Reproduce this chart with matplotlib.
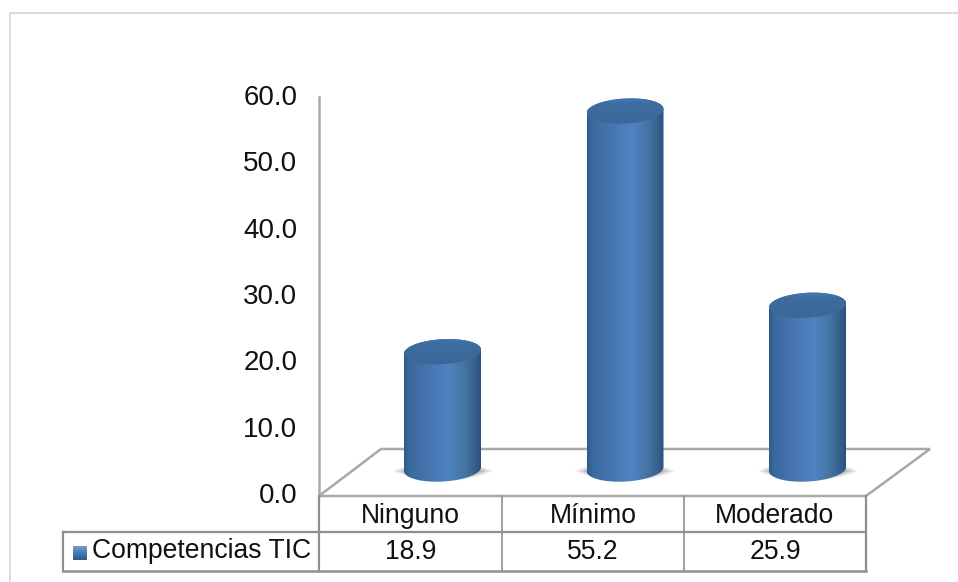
import numpy as np
import matplotlib
matplotlib.use("Agg")
import matplotlib.pyplot as plt
from matplotlib.colors import LinearSegmentedColormap
from matplotlib.patches import Polygon, PathPatch
from matplotlib.path import Path

plt.rcParams["font.family"] = ["Liberation Sans", "DejaVu Sans"]

categories = ["Ninguno", "Mínimo", "Moderado"]
values = [18.9, 55.2, 25.9]
series_name = "Competencias TIC"
y_ticks = [0, 10, 20, 30, 40, 50, 60]

W, H = 958, 582
FS = 19.1
FS_TICK = 20
GRID = "#a8a8a8"
EDGE = "#8f8f8f"

fig = plt.figure(figsize=(W / 100, H / 100), dpi=100, facecolor="white")


def axes_px(x0, y_top, x1, y_bottom, **kw):
    return fig.add_axes([x0 / W, 1 - y_bottom / H, (x1 - x0) / W, (y_bottom - y_top) / H], **kw)


# Layer holding the chart frame, back wall edge, floor and data table, in pixel units
deco = axes_px(0, 0, W, H, zorder=1)
deco.set_xlim(0, W)
deco.set_ylim(H, 0)
deco.axis("off")
deco.plot([10, 10, W], [H, 13, 13], color="#d4d4d4", lw=1.2)
deco.plot([319, 319], [97, 496], color=GRID, lw=1.8)
deco.add_patch(Polygon([(319, 496), (381, 449), (930, 449), (866, 496)], closed=True,
                       fc="white", ec=GRID, lw=1.8, joinstyle="miter"))

col_edges = [319, 502, 684, 866]
row_top, row_mid, row_bottom = 496, 532, 571
label_left = 63
deco.plot([col_edges[0]] * 2, [row_top, row_bottom], color=EDGE, lw=1.6)
deco.plot([col_edges[1]] * 2, [row_top, row_bottom], color=EDGE, lw=1.2)
deco.plot([col_edges[2]] * 2, [row_top, row_bottom], color=EDGE, lw=1.2)
deco.plot([col_edges[3]] * 2, [row_top, row_bottom], color=EDGE, lw=1.6)
deco.plot([label_left, col_edges[3]], [row_mid, row_mid], color=EDGE, lw=1.6)
deco.plot([label_left, col_edges[3]], [row_bottom, row_bottom], color=EDGE, lw=1.8)
deco.plot([label_left, label_left], [row_mid, row_bottom], color=EDGE, lw=1.6)

for i, (name, val) in enumerate(zip(categories, values)):
    xc = (col_edges[i] + col_edges[i + 1]) / 2
    deco.text(xc, 516, name, ha="center", va="center", fontsize=FS, color="#111111")
    deco.text(xc, 552, f"{val:.1f}", ha="center", va="center", fontsize=FS, color="#111111")
deco.text(92, 551, series_name, ha="left", va="center", fontsize=FS, color="#111111")

# Legend key with a small bevelled gradient
key = np.linspace(0, 1, 14).reshape(-1, 1)
key_cmap = LinearSegmentedColormap.from_list("key", ["#6f9ad0", "#4a7ab5", "#2f5c90"])
deco.imshow(key, extent=(73, 87, 560, 546), cmap=key_cmap, aspect="auto", zorder=3)
deco.set_xlim(0, W)
deco.set_ylim(H, 0)

# Value axis labels beside the back wall
wall = axes_px(319, 95, 340, 493, zorder=2)
wall.patch.set_alpha(0)
wall.set_ylim(0, 60)
wall.set_xticks([])
wall.set_yticks(y_ticks)
wall.set_yticklabels([f"{t:.1f}" for t in y_ticks], fontsize=FS_TICK, color="#111111")
wall.tick_params(axis="y", length=0, pad=15.5)
for spine in wall.spines.values():
    spine.set_visible(False)

# Cylinders: category positions on x, values on y
px_per_unit = 6.63
y_floor = -5
ax = axes_px(351.25, 477 - 60 * px_per_unit, 898.75, 477 - y_floor * px_per_unit, zorder=3)
ax.patch.set_alpha(0)
ax.axis("off")
ax.set_xlim(-0.5, 2.5)
ax.set_ylim(y_floor, 60)

half_w = 38.5 / 182.5
ell_h = 12.5 / px_per_unit
tilt = 2.0 / px_per_unit / half_w
floor_level = 1.2

body_cmap = LinearSegmentedColormap.from_list(
    "body",
    [(0.0, "#2f5b8c"), (0.08, "#3a6a9f"), (0.3, "#4675ae"), (0.58, "#4f83c3"),
     (0.8, "#44749f"), (0.93, "#345f8d"), (1.0, "#2b5079")],
)
top_cmap = LinearSegmentedColormap.from_list(
    "top", [(0.0, "#3a6697"), (0.72, "#3e6c9f"), (0.9, "#467ab3"), (1.0, "#5487c4")]
)
shadow_cmap = LinearSegmentedColormap.from_list("shadow", [(0.42, 0.42, 0.42, 0), (0.42, 0.42, 0.42, 0.9)])

theta = np.linspace(0, 2 * np.pi, 121)


def ellipse_xy(xc, level, t):
    dx = half_w * np.cos(t)
    return xc + dx, level + ell_h * np.sin(t) + tilt * dx


for i, val in enumerate(values):
    # soft shadow on the floor, tapering towards both sides
    gx, gy = np.meshgrid(np.linspace(-1, 1, 120), np.linspace(-1, 1, 40))
    envelope = np.clip(1 - gx ** 2, 0.01, 1)
    shade = np.clip(1 - np.abs(gy) / envelope, 0, 1) * np.clip((1 - np.abs(gx)) * 2.2, 0, 1)
    sx = half_w * 1.34
    ax.imshow(shade, extent=(i - sx, i + sx, floor_level - 2.0, floor_level + 1.3),
              cmap=shadow_cmap, vmin=0, vmax=1, aspect="auto", zorder=2)

    # body: horizontal shading clipped to the cylinder outline
    t_low = np.linspace(np.pi, 2 * np.pi, 60)
    t_up = np.linspace(0, np.pi, 60)
    bx, by = ellipse_xy(i, floor_level, t_low)
    ux, uy = ellipse_xy(i, val, t_up)
    outline = Path(np.column_stack([np.r_[bx, ux, bx[0]], np.r_[by, uy, by[0]]]))
    grad = np.linspace(0, 1, 256).reshape(1, -1)
    im = ax.imshow(grad, extent=(i - half_w, i + half_w, floor_level - ell_h * 1.4, val + ell_h * 1.4),
                   cmap=body_cmap, aspect="auto", zorder=3)
    im.set_clip_path(PathPatch(outline, transform=ax.transData))

    # cap: darker top face with a bright lower rim
    tx, ty = ellipse_xy(i, val, theta)
    cap = Path(np.column_stack([tx, ty]))
    grad_v = np.linspace(1, 0, 64).reshape(-1, 1)
    im2 = ax.imshow(grad_v, extent=(i - half_w, i + half_w, val - ell_h * 1.4, val + ell_h * 1.4),
                    cmap=top_cmap, aspect="auto", zorder=4)
    im2.set_clip_path(PathPatch(cap, transform=ax.transData))

ax.set_xlim(-0.5, 2.5)
ax.set_ylim(y_floor, 60)

fig.savefig("out.png", dpi=100, facecolor="white")
